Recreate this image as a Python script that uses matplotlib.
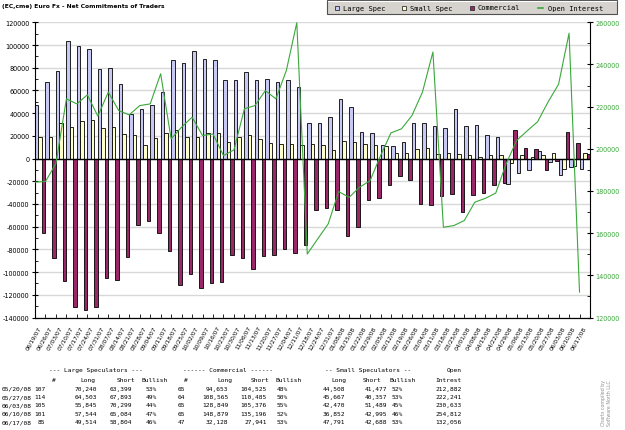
import numpy as np
import matplotlib
matplotlib.use('Agg')
import matplotlib.pyplot as plt
from matplotlib.patches import Rectangle
from matplotlib.ticker import MultipleLocator, FixedLocator

W,H=625,431
DPI=100
LARGE_COLOR='#c8c8f4'
SMALL_COLOR='#ffffcc'
COMM_COLOR='#9a2868'
OI_COLOR='#3aa83a'
GRID_COLOR='#d8d8d8'
MONO='DejaVu Sans Mono'

#
# DATA
#
dates=['06/19/07','06/26/07','07/03/07','07/10/07','07/17/07','07/24/07','07/31/07',
    '08/07/07','08/14/07','08/21/07','08/28/07','09/04/07','09/11/07','09/18/07',
    '09/25/07','10/02/07','10/09/07','10/16/07','10/23/07','10/30/07','11/06/07',
    '11/13/07','11/20/07','11/27/07','12/04/07','12/11/07','12/18/07','12/24/07',
    '12/31/07','01/08/08','01/15/08','01/22/08','01/29/08','02/05/08','02/12/08',
    '02/19/08','02/26/08','03/04/08','03/11/08','03/18/08','03/25/08','04/01/08',
    '04/08/08','04/15/08','04/22/08','04/29/08','05/06/08','05/13/08','05/20/08',
    '05/27/08','06/03/08','06/10/08','06/17/08']
large_spec=[47000,67600,77000,103200,99400,96100,78500,79400,65300,38800,43200,
    46800,58500,86700,83800,94400,87600,86700,69400,68800,75900,69400,69700,67000,
    69400,63200,31400,30900,37000,52300,45000,23800,22900,12300,10800,15000,31700,
    31700,29100,26700,43500,29100,29700,20600,19400,-22000,-13000,-10000,6841,
    -3390,-14454,-7540,-9290]
small_spec=[19400,19400,30900,27600,33200,33800,27300,28200,21200,20300,11700,
    17900,22300,25300,18800,19400,22900,22300,15000,18800,20300,16800,13800,12900,
    12900,12300,13200,11700,7900,15300,15000,12600,11700,10800,5300,4700,8200,9400,
    3800,4700,3800,3200,1400,3200,3200,-3500,3200,1700,3031,5310,-9019,-6143,5103]
commercial=[-65300,-87400,-108000,-130900,-133200,-130600,-105600,-107400,-86500,
    -58800,-55000,-65300,-81200,-111500,-102000,-113800,-110000,-108800,-85300,
    -87700,-97000,-85900,-84700,-80000,-82900,-76200,-45000,-43300,-45000,-68300,
    -60000,-36500,-34800,-23300,-15300,-19100,-39700,-41200,-33000,-31200,-46800,
    -32400,-30600,-23000,-21800,25000,9100,8200,-9872,-1920,23473,13683,4187]
open_interest=[184200,184500,193000,223700,221300,225600,215500,226900,218100,
    216100,220500,221300,235600,204700,210300,215000,206300,207000,196800,199500,
    219000,220500,227600,223700,237100,259800,150100,157300,164400,179700,177000,
    181800,184900,196800,207600,209500,215800,226900,245900,162800,163600,166000,
    174700,176500,179000,193000,204000,208500,212882,222241,230633,254812,132056]

# table under the chart
table_dates=['05/20/08','05/27/08','06/03/08','06/10/08','06/17/08']
ls_num=[107,114,105,101,85]
ls_long=[70240,64503,55845,57544,49514]
ls_short=[63399,67893,70299,65084,58804]
ls_bull=[53,49,44,47,46]
c_num=[65,64,65,65,47]
c_long=[94653,108565,128849,148879,32128]
c_short=[104525,110485,105376,135196,27941]
c_bull=[48,50,55,52,53]
ss_long=[44508,45667,42470,36852,47791]
ss_short=[41477,40357,51489,42995,42688]
ss_bull=[52,53,45,46,53]
oi_table=[212882,222241,230633,254812,132056]


def fx(x): return x/W
def fy(y): return 1-y/H


def ftext(fig,x,y,s,**kw):
    fig.text(fx(x),fy(y),s,**kw)


#
# CHART
#
fig=plt.figure(figsize=(W/DPI,H/DPI),dpi=DPI)
ax=fig.add_axes([fx(35),fy(318.5),(590-35)/W,(318.5-23.3)/H])
x=np.arange(len(dates))
bw=1/3.
ax.bar(x-bw,large_spec,width=bw,color=LARGE_COLOR,edgecolor='black',lw=0.6,zorder=2)
ax.bar(x,small_spec,width=bw,color=SMALL_COLOR,edgecolor='black',lw=0.6,zorder=2)
ax.bar(x+bw,commercial,width=bw,color=COMM_COLOR,edgecolor='black',lw=0.6,zorder=2)
ax.axhline(0,color='black',lw=1,zorder=3)

ax.set_xlim(-0.5,len(dates)-0.5)
ax.set_ylim(-140000,120000)
ax.set_axisbelow(True)
ax.yaxis.grid(True,color=GRID_COLOR,lw=1)
ax.set_yticks(range(-140000,120001,20000))
ax.set_yticklabels([str(v) for v in range(-140000,120001,20000)])
ax.yaxis.set_minor_locator(MultipleLocator(10000))
ax.tick_params(axis='y',which='major',direction='inout',length=4,width=0.8,
    labelsize=4.7,pad=2)
ax.tick_params(axis='y',which='minor',direction='in',length=2,width=0.6)
ax.set_xticks(x)
ax.set_xticklabels(dates,rotation=60,ha='right',va='center',
    rotation_mode='anchor',fontsize=4.2)
ax.xaxis.set_minor_locator(FixedLocator(np.arange(0.5,len(dates)-0.5,1)))
ax.tick_params(axis='x',which='major',length=0,pad=6)
ax.tick_params(axis='x',which='minor',direction='in',length=3,width=0.6)
ax.spines['top'].set_visible(False)
ax.spines['right'].set_visible(False)

ax2=ax.twinx()
ax2.plot(x-0.5,open_interest,color=OI_COLOR,lw=0.8,zorder=4)
ax2.set_ylim(120000,260000)
ax2.set_yticks(range(120000,260001,20000))
ax2.set_yticklabels([str(v) for v in range(120000,260001,20000)])
ax2.yaxis.set_minor_locator(MultipleLocator(10000))
ax2.tick_params(axis='y',which='major',direction='inout',length=4,width=0.8,
    labelsize=4.7,labelcolor=OI_COLOR,pad=2)
ax2.tick_params(axis='y',which='minor',direction='in',length=2,width=0.6)
ax2.spines['top'].set_visible(False)
ax2.spines['left'].set_visible(False)

#
# TITLE / LEGEND
#
ftext(fig,2,6.5,'(EC,cme) Euro Fx - Net Commitments of Traders',
    fontsize=4.3,fontweight='bold',va='center')
fig.add_artist(Rectangle((fx(327),fy(15)),(617-327)/W,14/H,transform=fig.transFigure,
    facecolor='#d6d3ce',edgecolor='#505050',lw=0.8))
fig.add_artist(plt.Line2D([fx(328),fx(616)],[fy(2),fy(2)],transform=fig.transFigure,
    color='white',lw=0.8))
legend_items=[('Large Spec',LARGE_COLOR,337),('Small Spec',SMALL_COLOR,404),
    ('Commercial',COMM_COLOR,472)]
for label,color,mx in legend_items:
    fig.add_artist(Rectangle((fx(mx-2),fy(10.5)),4/W,4/H,transform=fig.transFigure,
        facecolor=color,edgecolor='#303030',lw=0.6))
    ftext(fig,mx+6,8.5,label,fontsize=5,family=MONO,va='center')
fig.add_artist(plt.Line2D([fx(538),fx(543)],[fy(8.5),fy(8.5)],transform=fig.transFigure,
    color=OI_COLOR,lw=1.2))
ftext(fig,548,8.5,'Open Interest',fontsize=5,family=MONO,va='center')

#
# TABLE
#
TS=4.5
for s,lx in [('--- Large Speculators ---',49),('------ Commercial ------',183),
        ('-- Small Speculators --',325)]:
    ftext(fig,lx,370.7,s,fontsize=TS,family=MONO,va='center')
ftext(fig,462,370.7,'Open',fontsize=TS,family=MONO,va='center',ha='right')
for s,lx in [('#',52.5),('Long',80),('Short',117),('Bullish',142),('#',183.5),
        ('Long',217),('Short',251),('Bullish',276),('Long',331),('Short',363),
        ('Bullish',390),('Intrest',435)]:
    ftext(fig,lx,381,s,fontsize=TS,family=MONO,va='center')

cols=[(ls_num,45.5,'{}'),(ls_long,96.7,'{:,}'),(ls_short,131.7,'{:,}'),
    (ls_bull,156.7,'{}%'),(c_num,185,'{}'),(c_long,228.3,'{:,}'),
    (c_short,266.7,'{:,}'),(c_bull,288.3,'{}%'),(ss_long,345,'{:,}'),
    (ss_short,387,'{:,}'),(ss_bull,403,'{}%'),(oi_table,462,'{:,}')]
for i,d in enumerate(table_dates):
    ry=389.3+8.35*i
    ftext(fig,2,ry,d,fontsize=TS,family=MONO,va='center')
    for vals,rx,fmt in cols:
        ftext(fig,rx,ry,fmt.format(vals[i]),fontsize=TS,family=MONO,va='center',ha='right')

ftext(fig,606.5,380,'Charts compiled by\nSoftware North LLC',fontsize=3.4,
    color='#909090',rotation=90,ha='center',va='top',linespacing=1.3)

fig.savefig('out.png',dpi=DPI)
